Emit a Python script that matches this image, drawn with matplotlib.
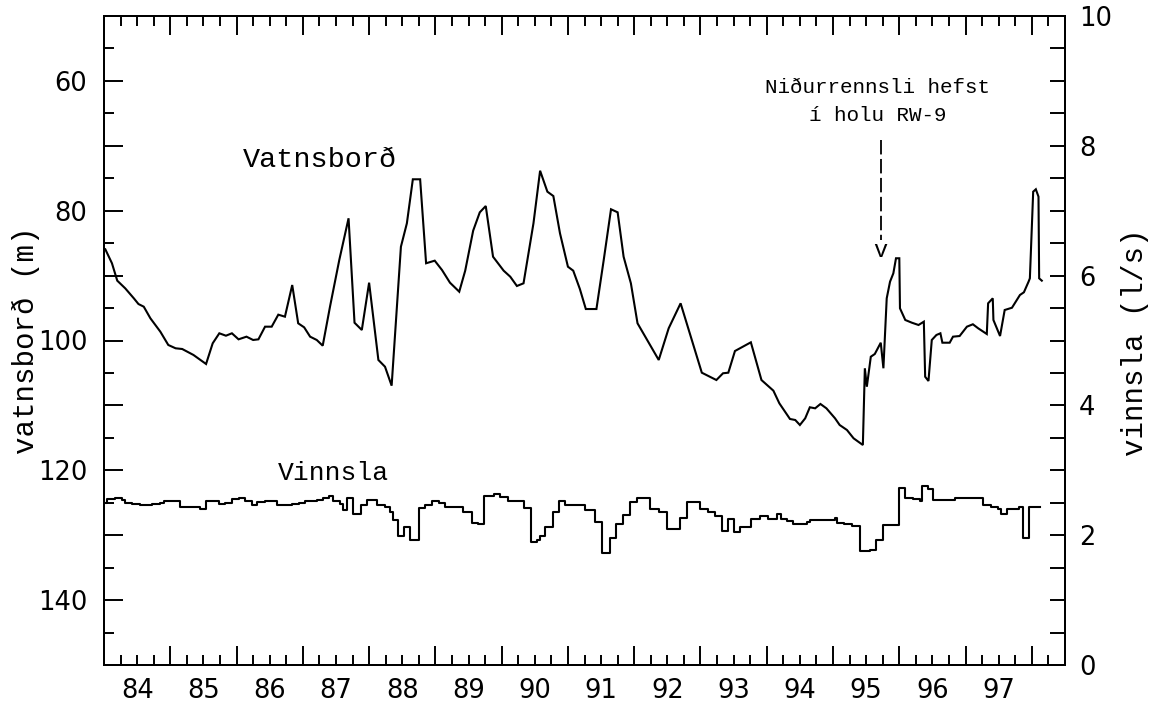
import matplotlib
matplotlib.use('Agg')
import matplotlib.pyplot as plt
from matplotlib.ticker import FixedLocator, FuncFormatter, MultipleLocator, NullFormatter
import numpy as np

# ---------------- data ----------------
# Vatnsborð (water level, m) -- left axis, inverted
wl_year = [84.02, 84.12, 84.20, 84.32, 84.45, 84.52, 84.60, 84.70, 84.85, 84.97,
           85.08, 85.18, 85.35, 85.54, 85.64, 85.74, 85.84, 85.93, 86.03, 86.15,
           86.25, 86.33, 86.43, 86.53, 86.63, 86.73, 86.84, 86.93, 87.02, 87.11,
           87.21, 87.30, 87.41, 87.55, 87.69, 87.78, 87.89, 88.00, 88.14, 88.24,
           88.34, 88.48, 88.57, 88.66, 88.77, 88.86, 88.99, 89.10, 89.22, 89.36,
           89.45, 89.57, 89.67, 89.76, 89.87, 90.03, 90.13, 90.23, 90.33, 90.48,
           90.58, 90.69, 90.78, 90.88, 91.00, 91.08, 91.18, 91.27, 91.43, 91.54,
           91.65, 91.75, 91.84, 91.95, 92.05, 92.37, 92.52, 92.70, 93.02, 93.24,
           93.34, 93.42, 93.52, 93.76, 93.92, 94.10, 94.19, 94.35, 94.43, 94.50,
           94.58, 94.65, 94.73, 94.81, 94.90, 95.03, 95.10, 95.21, 95.31, 95.45,
           95.48, 95.51, 95.57, 95.63, 95.72, 95.76, 95.81, 95.86, 95.91, 95.95,
           96.00, 96.01, 96.09, 96.19, 96.29, 96.37, 96.39, 96.44, 96.49, 96.56,
           96.62, 96.65, 96.76, 96.81, 96.91, 97.02, 97.11, 97.19, 97.32, 97.34,
           97.41, 97.42, 97.52, 97.59, 97.70, 97.82, 97.88, 97.95, 97.97, 98.02,
           98.06, 98.10, 98.11, 98.15]
wl_level = [85.95, 88.1, 90.78, 91.96, 93.5, 94.38, 94.79, 96.58, 98.64, 100.69,
            101.2, 101.31, 102.23, 103.62, 100.43, 98.89, 99.26, 98.89, 99.82, 99.41,
            99.92, 99.82, 97.87, 97.87, 96.02, 96.33, 91.45, 97.35, 97.97, 99.41,
            99.92, 100.8, 94.79, 87.6, 81.17, 97.26, 98.38, 91.09, 103.0, 104.04,
            106.96, 85.55, 81.94, 75.16, 75.16, 88.1, 87.7, 89.14, 91.09, 92.48,
            89.24, 83.08, 80.25, 79.28, 87.09, 89.24, 90.17, 91.6, 91.19, 81.94,
            73.84, 77.07, 77.74, 83.48, 88.63, 89.24, 92.06, 95.15, 95.15, 87.6,
            79.78, 80.25, 87.09, 91.19, 97.35, 103.0, 98.12, 94.27, 104.96, 106.09,
            105.05, 104.96, 101.62, 100.28, 106.09, 107.73, 109.68, 112.09, 112.25, 113.02,
            111.99, 110.29, 110.45, 109.78, 110.45, 111.99, 113.02, 113.79, 115.07, 116.1,
            104.28, 107.12, 102.5, 102.08, 100.34, 104.28, 93.5, 90.94, 89.65, 87.33,
            87.33, 95.04, 96.84, 97.26, 97.61, 97.1, 105.58, 106.24, 99.92, 99.15,
            98.89, 100.34, 100.34, 99.41, 99.31, 97.87, 97.5, 98.12, 99.0, 94.27,
            93.5, 96.84, 99.31, 95.3, 94.95, 92.99, 92.57, 90.94, 90.42, 77.07,
            76.7, 77.84, 90.42, 90.78]

# Vinnsla (production, l/s) -- right axis, step series (value holds from each start year)
pr_year = [84.00, 84.04, 84.17, 84.27, 84.32, 84.42, 84.55, 84.65, 84.72, 84.85,
           84.90, 85.15, 85.45, 85.54, 85.63, 85.73, 85.83, 85.93, 86.03, 86.13,
           86.23, 86.31, 86.43, 86.61, 86.73, 86.84, 86.94, 87.04, 87.11, 87.21,
           87.31, 87.39, 87.46, 87.56, 87.61, 87.66, 87.75, 87.88, 87.97, 88.12,
           88.24, 88.32, 88.36, 88.43, 88.53, 88.62, 88.75, 88.85, 88.95, 89.05,
           89.15, 89.42, 89.55, 89.65, 89.74, 89.88, 89.98, 90.10, 90.33, 90.45,
           90.53, 90.58, 90.66, 90.77, 90.87, 90.96, 91.13, 91.26, 91.41, 91.51,
           91.63, 91.73, 91.83, 91.94, 92.04, 92.14, 92.24, 92.37, 92.50, 92.69,
           92.79, 93.00, 93.12, 93.22, 93.32, 93.41, 93.51, 93.60, 93.76, 93.90,
           94.02, 94.16, 94.22, 94.30, 94.40, 94.60, 94.65, 95.03, 95.06, 95.16,
           95.28, 95.41, 95.56, 95.65, 95.75, 95.92, 96.00, 96.09, 96.21, 96.31,
           96.34, 96.44, 96.51, 96.71, 96.84, 97.26, 97.39, 97.49, 97.53, 97.62,
           97.80, 97.86, 97.95, 98.13]
pr_value = [2.50, 2.56, 2.57, 2.54, 2.50, 2.48, 2.47, 2.46, 2.48, 2.50,
            2.52, 2.44, 2.40, 2.53, 2.52, 2.48, 2.50, 2.56, 2.57, 2.53,
            2.47, 2.51, 2.52, 2.46, 2.47, 2.48, 2.50, 2.52, 2.53, 2.55,
            2.57, 2.60, 2.53, 2.48, 2.39, 2.58, 2.33, 2.47, 2.55, 2.47,
            2.43, 2.35, 2.23, 1.98, 2.12, 1.92, 2.42, 2.47, 2.53, 2.50,
            2.44, 2.36, 2.19, 2.17, 2.61, 2.63, 2.59, 2.52, 2.42, 1.89,
            1.93, 1.98, 2.12, 2.35, 2.52, 2.47, 2.47, 2.39, 2.21, 1.72,
            1.96, 2.18, 2.31, 2.51, 2.58, 2.57, 2.41, 2.35, 2.10, 2.26,
            2.51, 2.40, 2.35, 2.29, 2.07, 2.25, 2.05, 2.13, 2.25, 2.29,
            2.25, 2.32, 2.25, 2.22, 2.18, 2.21, 2.23, 2.27, 2.19, 2.17,
            2.14, 1.75, 1.77, 1.93, 2.15, 2.16, 2.72, 2.58, 2.56, 2.52,
            2.76, 2.71, 2.54, 2.55, 2.58, 2.46, 2.44, 2.41, 2.32, 2.41,
            2.43, 1.95, 2.43, 2.43]

year_labels = ['84', '85', '86', '87', '88', '89', '90', '91', '92', '93', '94', '95', '96', '97']
event_year = 95.73

# ---------------- figure ----------------
W, H = 1154, 703
fig = plt.figure(figsize=(W / 100, H / 100), dpi=100)
fig.patch.set_facecolor('white')
ax = fig.add_axes([104 / W, (H - 665) / H, (1065 - 104) / W, (665 - 16) / H])

ax.plot(wl_year, wl_level, color='black', lw=1.5, solid_joinstyle='miter')
ax.set_xlim(84, 98.5)
ax.set_ylim(150, 50)

ax2 = ax.twinx()
ax2.step(pr_year, pr_value, where='post', color='black', lw=1.5)
ax2.set_ylim(0, 10)

tick_family = 'DejaVu Sans'
tick_size = 18.5
mono = 'Liberation Mono'

# x axis: long ticks at year boundaries, short at quarters, labels mid-year
ax.xaxis.set_major_locator(FixedLocator(np.arange(85, 99)))
ax.xaxis.set_major_formatter(NullFormatter())
label_pos = [84.5 + i for i in range(len(year_labels))]
quarters = [y + q for y in range(84, 99) for q in (0.25, 0.5, 0.75) if y + q < 98.5]
ax.xaxis.set_minor_locator(FixedLocator(quarters))
lab_map = {round(p, 2): l for p, l in zip(label_pos, year_labels)}
ax.xaxis.set_minor_formatter(FuncFormatter(lambda v, p: lab_map.get(round(v, 2), '')))
ax.tick_params(axis='x', which='major', direction='in', length=14, width=1.4,
               top=True, bottom=True)
ax.tick_params(axis='x', which='minor', direction='in', length=7, width=1.4,
               top=True, bottom=True, pad=9)

# left axis
ax.yaxis.set_major_locator(MultipleLocator(10))
ax.yaxis.set_minor_locator(MultipleLocator(5))
ax.yaxis.set_major_formatter(FuncFormatter(lambda v, p: f'{int(round(v))}' if int(round(v)) % 20 == 0 else ''))
ax.tick_params(axis='y', which='major', direction='in', length=14, width=1.4,
               left=True, right=False, pad=12)
ax.tick_params(axis='y', which='minor', direction='in', length=7, width=1.4,
               left=True, right=False)

# right axis
ax2.yaxis.set_major_locator(MultipleLocator(2))
ax2.yaxis.set_minor_locator(MultipleLocator(0.5))
ax2.yaxis.set_major_formatter(FuncFormatter(lambda v, p: f'{int(round(v))}'))
ax2.tick_params(axis='y', which='both', direction='in', length=11, width=1.4,
                right=True, left=False, pad=10)

for a in (ax, ax2):
    a.tick_params(axis='both', which='both', labelsize=tick_size)
    for lbl in a.get_xticklabels(which='both') + a.get_yticklabels(which='both'):
        lbl.set_fontfamily(tick_family)
    for s in a.spines.values():
        s.set_linewidth(1.4)

# axis titles
fig.text(26 / W, 1 - 340 / H, 'vatnsborð (m)', rotation=90, ha='center', va='center',
         family=mono, fontsize=21)
fig.text(1135 / W, 1 - 342 / H, 'vinnsla (l/s)', rotation=90, ha='center', va='center',
         family=mono, fontsize=21)

# series labels
ax.text(86.09, 73.3, 'Vatnsborð', family=mono, fontsize=20.5, ha='left', va='baseline')
ax.text(86.63, 121.5, 'Vinnsla', family=mono, fontsize=19, ha='left', va='baseline')

# annotation
ax.text(event_year - 0.06, 61.9, 'Niðurrennsli hefst', family=mono, fontsize=15,
        ha='center', va='baseline')
ax.text(event_year - 0.06, 66.2, 'í holu RW-9', family=mono, fontsize=15,
        ha='center', va='baseline')
ax.plot([event_year, event_year], [69.1, 84.5], color='black', lw=1.3,
        linestyle=(0, (8, 2.5)))
ax.text(event_year - 0.02, 87.1, 'v', family=mono, fontsize=17, ha='center',
        va='baseline')

fig.savefig('out.png', dpi=100, facecolor='white')
